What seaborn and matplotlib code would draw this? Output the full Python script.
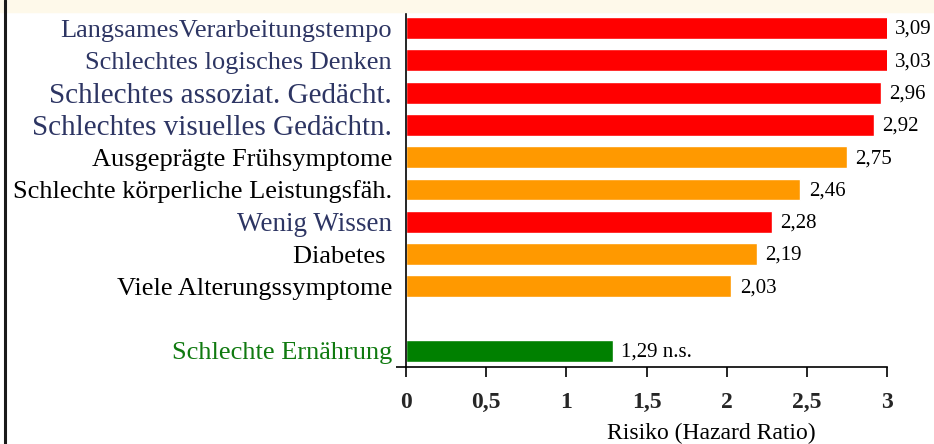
import matplotlib.pyplot as plt
import pandas as pd
import seaborn as sns
from matplotlib.lines import Line2D
from matplotlib.patches import Rectangle

categories = [
    "LangsamesVerarbeitungstempo",
    "Schlechtes logisches Denken",
    "Schlechtes assoziat. Gedächt.",
    "Schlechtes visuelles Gedächtn.",
    "Ausgeprägte Frühsymptome",
    "Schlechte körperliche Leistungsfäh.",
    "Wenig Wissen",
    "Diabetes ",
    "Viele Alterungssymptome",
    "Schlechte Ernährung",
]
hazard_ratios = [3.09, 3.03, 2.96, 2.92, 2.75, 2.46, 2.28, 2.19, 2.03, 1.29]
value_labels = ["3,09", "3,03", "2,96", "2,92", "2,75", "2,46", "2,28", "2,19", "2,03", "1,29 n.s."]
groups = ["kognitiv", "kognitiv", "kognitiv", "kognitiv", "körperlich",
          "körperlich", "kognitiv", "körperlich", "körperlich", "Ernährung"]
x_ticks = [0, 0.5, 1, 1.5, 2, 2.5, 3]
x_tick_labels = ["0", "0,5", "1", "1,5", "2", "2,5", "3"]

# styling
bar_colors = {"kognitiv": "#FF0000", "körperlich": "#FF9900", "Ernährung": "#008000"}
text_colors = {"kognitiv": "#2D3563", "körperlich": "#000000", "Ernährung": "#107A10"}
big_labels = {"Schlechtes assoziat. Gedächt.": 21, "Schlechtes visuelles Gedächtn.": 21,
              "Wenig Wissen": 19.5}
BLANK = ""
X_MAX = 3

df = pd.DataFrame({"kategorie": categories, "hr": hazard_ratios, "gruppe": groups})
order = categories[:9] + [BLANK] + categories[9:]

sns.set_theme(style="white")
plt.rcParams["font.family"] = ["Liberation Serif", "DejaVu Serif"]

fig = plt.figure(figsize=(9.34, 4.44), dpi=100)
fig.patches.append(Rectangle((0, 1 - 12 / 444), 1, 12 / 444, transform=fig.transFigure,
                             color="#FEF9EA", zorder=0))
fig.lines.append(Line2D([4.5 / 934, 4.5 / 934], [0, 1], transform=fig.transFigure,
                        color="#1A1A1A", lw=2.2))

ax = fig.add_axes([406 / 934, 77 / 444, 481 / 934, 355 / 444])
sns.barplot(data=df, x="hr", y="kategorie", hue="gruppe", order=order,
            palette=bar_colors, width=0.68, saturation=1, legend=False, ax=ax)

ax.set_xlim(0, X_MAX)
ax.set_ylim(len(order) - 0.5, -0.5)
ax.set_xticks(x_ticks)
ax.set_xticklabels(x_tick_labels, fontsize=17, fontweight="bold")
ax.tick_params(axis="x", length=7, width=1.2, color="black", pad=11, bottom=True)
ax.tick_params(axis="y", length=0, pad=10)
ax.set_yticks([-0.5, len(order) - 0.5], minor=True)
ax.tick_params(axis="y", which="minor", length=7, width=1.2, color="black", left=True)

group_of = dict(zip(categories, groups))
for lab in ax.get_yticklabels():
    name = lab.get_text()
    if name in group_of:
        lab.set_color(text_colors[group_of[name]])
        lab.set_fontsize(big_labels.get(name, 19))

pos = {name: order.index(name) for name in categories}
for name, v, txt in zip(categories, hazard_ratios, value_labels):
    ax.annotate(txt, xy=(min(v, X_MAX), pos[name]), xytext=(6, -1), textcoords="offset points",
                ha="left", va="center", fontsize=15, color="black", annotation_clip=False)

ax.set_ylabel("")
ax.set_xlabel("Risiko (Hazard Ratio)", fontsize=17, color="black")
ax.xaxis.set_label_coords(0.634, -0.158)

sns.despine(ax=ax)
for side in ["left", "bottom"]:
    ax.spines[side].set_color("black")
    ax.spines[side].set_linewidth(1.2)
ax.set_facecolor("white")

fig.savefig("out.png", dpi=100)
